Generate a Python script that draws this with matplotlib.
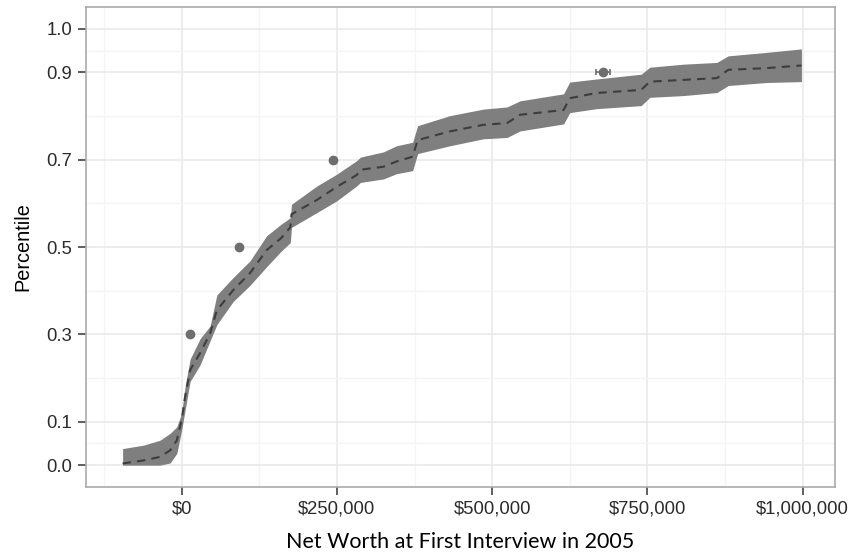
import matplotlib
matplotlib.use("Agg")
import matplotlib.pyplot as plt
from matplotlib.ticker import FuncFormatter
import numpy as np

# net worth (thousands of $) along the estimated curve
net_worth_k = [-95, -61, -35, -18.5, -7.7, 0, 5.6, 13.7, 29.8, 45.9, 56.7, 83,
               110, 137, 160, 175, 177, 218, 250, 282, 288, 325, 346, 372,
               380, 432, 486, 524, 545, 615, 625, 668, 740, 754, 808, 862,
               880, 942, 998]
pct_mid = [0.004, 0.011, 0.019, 0.034, 0.057, 0.103, 0.157, 0.218, 0.257, 0.302,
           0.355, 0.401, 0.440, 0.493, 0.520, 0.545, 0.575, 0.608, 0.638, 0.665,
           0.677, 0.684, 0.696, 0.707, 0.745, 0.765, 0.780, 0.784, 0.803, 0.814,
           0.841, 0.853, 0.860, 0.879, 0.883, 0.887, 0.906, 0.910, 0.916]
pct_lo = [0.0, 0.0, 0.0, 0.005, 0.027, 0.080, 0.126, 0.192, 0.230, 0.285,
          0.322, 0.375, 0.412, 0.455, 0.490, 0.510, 0.545, 0.579, 0.606, 0.640,
          0.648, 0.656, 0.668, 0.675, 0.714, 0.732, 0.748, 0.751, 0.766, 0.782,
          0.808, 0.817, 0.824, 0.843, 0.847, 0.854, 0.870, 0.877, 0.879]
pct_hi = [0.038, 0.046, 0.057, 0.073, 0.088, 0.119, 0.180, 0.243, 0.290, 0.319,
          0.390, 0.430, 0.468, 0.526, 0.552, 0.567, 0.598, 0.640, 0.667, 0.698,
          0.706, 0.718, 0.732, 0.740, 0.778, 0.801, 0.816, 0.821, 0.835, 0.851,
          0.878, 0.885, 0.896, 0.912, 0.919, 0.923, 0.938, 0.946, 0.954]

# observed points
obs_k = [13.7, 93, 244, 678]
obs_pct = [0.3, 0.5, 0.7, 0.9]
obs_err_k = [1, 1, 1, 11]

xticks_k = [0, 250, 500, 750, 1000]
xminor_k = [-125, 125, 375, 625, 875]
yticks = [0.0, 0.1, 0.3, 0.5, 0.7, 0.9, 1.0]
yminor = [0.05, 0.2, 0.4, 0.6, 0.8, 0.95]

x = np.array(net_worth_k) * 1000
px = np.array(obs_k) * 1000
perr = np.array(obs_err_k) * 1000

plt.rcParams['font.family'] = ['Liberation Sans', 'DejaVu Sans']

fig = plt.figure(figsize=(8.52, 5.56), dpi=100)
ax = fig.add_axes([0.1009, 0.1241, 0.8791, 0.8633])

ax.fill_between(x, pct_lo, pct_hi, color='#7f7f7f', linewidth=0, zorder=2)
ax.plot(x, pct_mid, color='#3d3d3d', linestyle=(0, (4, 3)), linewidth=1.5, zorder=3)
ax.errorbar(px, obs_pct, xerr=perr, fmt='o', color='#6e6e6e', markersize=6,
            capsize=2.5, elinewidth=1.2, capthick=1.2, zorder=4)

ax.set_xlim(-154000, 1052000)
ax.set_ylim(-0.05, 1.05)

ax.set_xticks([v * 1000 for v in xticks_k])
ax.set_xticks([v * 1000 for v in xminor_k], minor=True)
ax.set_yticks(yticks)
ax.set_yticks(yminor, minor=True)
ax.xaxis.set_major_formatter(FuncFormatter(lambda v, p: "${:,.0f}".format(v)))
ax.yaxis.set_major_formatter(FuncFormatter(lambda v, p: "{:.1f}".format(v)))

ax.grid(which='major', color='#e8e8e8', linewidth=1.1, zorder=0)
ax.grid(which='minor', color='#f4f4f4', linewidth=0.9, zorder=0)
ax.set_axisbelow(True)

ax.tick_params(which='major', length=6, width=1.1, color='#333333',
               labelsize=13.3, labelcolor='#2b2b2b', pad=4)
ax.tick_params(which='minor', length=0)
for s in ax.spines.values():
    s.set_color('#aaaaaa')
    s.set_linewidth(1.2)

ax.set_xlabel("Net Worth at First Interview in 2005", fontsize=15.5,
              family=['Lato', 'DejaVu Sans'], labelpad=10)
ax.set_ylabel("Percentile", fontsize=14.3, labelpad=10)

fig.savefig("out.png", dpi=100)
